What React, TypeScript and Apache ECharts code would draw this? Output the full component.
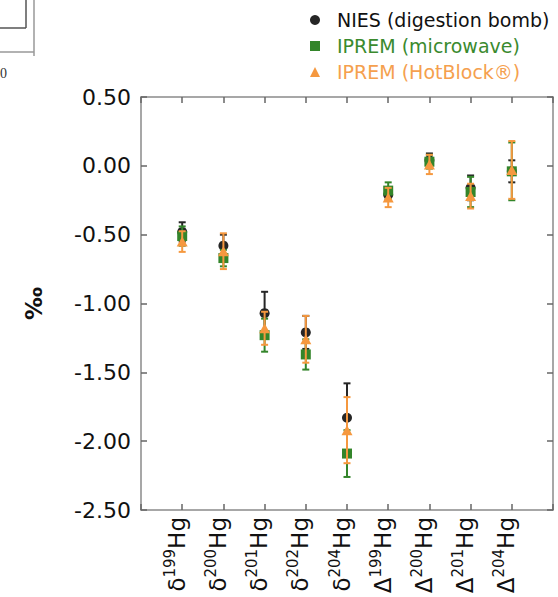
import React, { useEffect, useRef } from "react";
import * as echarts from "echarts";

const categories = ["δ199Hg", "δ200Hg", "δ201Hg", "δ202Hg", "δ204Hg", "Δ199Hg", "Δ200Hg", "Δ201Hg", "Δ204Hg"];
const yTicks = [-2.5, -2.0, -1.5, -1.0, -0.5, 0.0, 0.5];

const niesMean = [-0.48, -0.58, -1.07, -1.21, -1.83, -0.21, 0.04, -0.16, -0.04];
const niesErr = [0.07, 0.08, 0.155, 0.12, 0.25, 0.04, 0.05, 0.09, 0.08];

const microMean = [-0.51, -0.67, -1.23, -1.37, -2.09, -0.18, 0.03, -0.19, -0.04];
const microErr = [0.07, 0.06, 0.12, 0.11, 0.17, 0.06, 0.05, 0.11, 0.21];

const hotMean = [-0.55, -0.62, -1.18, -1.26, -1.92, -0.23, 0.01, -0.22, -0.03];
const hotErr = [0.075, 0.13, 0.12, 0.17, 0.24, 0.07, 0.07, 0.09, 0.21];

const seriesNames = ["NIES (digestion bomb)", "IPREM (microwave)", "IPREM (HotBlock®)"];
const colors = ["#262626", "#33852a", "#f5983f"];
const legendTextColors = ["#111111", "#3a8a2e", "#f5a04e"];
const symbols = ["circle", "rect", "triangle"];

const FONT = "DejaVu Sans";

export default function App() {
  const ref = useRef<HTMLDivElement>(null);
  useEffect(() => {
    document.body.style.margin = "0";
    const chart = echarts.init(ref.current!, null, { renderer: "svg" });
    const means = [niesMean, microMean, hotMean];
    const errs = [niesErr, microErr, hotErr];
    const series: any[] = [];
    means.forEach((m, si) => {
      const errData = m.map((v, i) => [i + 1, v - errs[si][i], v + errs[si][i]]);
      series.push({
        type: "custom",
        name: seriesNames[si] + " err",
        xAxisIndex: 0,
        yAxisIndex: 0,
        z: 2 + si * 2,
        data: errData,
        renderItem: (params: any, api: any) => {
          const x = api.value(0);
          const top = api.coord([x, api.value(2)]);
          const bot = api.coord([x, api.value(1)]);
          const hw = 3.5;
          const st = { stroke: colors[si], lineWidth: 2 };
          return {
            type: "group",
            children: [
              { type: "line", shape: { x1: top[0], y1: top[1], x2: bot[0], y2: bot[1] }, style: st },
              { type: "line", shape: { x1: top[0] - hw, y1: top[1], x2: top[0] + hw, y2: top[1] }, style: st },
              { type: "line", shape: { x1: bot[0] - hw, y1: bot[1], x2: bot[0] + hw, y2: bot[1] }, style: st },
            ],
          };
        },
      });
      series.push({
        type: "scatter",
        name: seriesNames[si],
        xAxisIndex: 0,
        yAxisIndex: 0,
        z: 3 + si * 2,
        symbol: symbols[si],
        symbolKeepAspect: true,
        symbolSize: si === 0 ? 10 : si === 1 ? 10 : [11, 10],
        itemStyle: { color: colors[si], opacity: 1 },
        data: m.map((v, i) => [i + 1, v]),
      });
    });

    const axisLineStyle = { color: "#8a8a8a", width: 1.5 };
    const tickStyle = { color: "#666666", width: 1.5 };

    chart.setOption({
      animation: false,
      textStyle: { fontFamily: FONT },
      grid: { left: 141, right: 5, top: 97, bottom: 87, containLabel: false },
      legend: {
        orient: "vertical",
        left: 310,
        top: 10,
        padding: 0,
        itemGap: 6,
        itemWidth: 10,
        itemHeight: 10,
        textStyle: { fontSize: 19, fontFamily: FONT, lineHeight: 20, padding: [0, 0, 0, 12] },
        data: seriesNames.map((n, i) => ({ name: n, icon: symbols[i], textStyle: { color: legendTextColors[i] } })),
      },
      xAxis: [
        {
          type: "value",
          position: "bottom",
          min: 0,
          max: 10,
          interval: 1,
          splitLine: { show: false },
          axisLine: { show: true, onZero: false, lineStyle: axisLineStyle },
          axisTick: { show: true, inside: true, length: 6, lineStyle: tickStyle },
          axisLabel: {
            rotate: 90,
            margin: 7,
            padding: [0, 0, 14, 0],
            formatter: (v: number) => {
              const c = categories[v - 1];
              if (!c) return "";
              return "{m|" + c[0] + "}{s|" + c.slice(1, 4) + "}{m|" + c.slice(4) + "}";
            },
            rich: {
              m: { fontSize: 23, fontFamily: FONT, color: "#111", lineHeight: 26, verticalAlign: "bottom" },
              s: { fontSize: 15, fontFamily: FONT, color: "#111", lineHeight: 15, verticalAlign: "top" },
            },
          },
        },
        {
          type: "value",
          position: "top",
          min: 0,
          max: 10,
          interval: 1,
          splitLine: { show: false },
          axisLine: { show: true, onZero: false, lineStyle: axisLineStyle },
          axisTick: { show: true, inside: true, length: 6, lineStyle: tickStyle },
          axisLabel: { show: false },
        },
      ],
      yAxis: [
        {
          type: "value",
          position: "left",
          min: yTicks[0],
          max: yTicks[yTicks.length - 1],
          interval: 0.5,
          splitLine: { show: false },
          axisLine: { show: true, onZero: false, lineStyle: axisLineStyle },
          axisTick: { show: true, inside: true, length: 6, lineStyle: tickStyle },
          axisLabel: {
            margin: 10,
            fontSize: 22,
            fontFamily: FONT,
            color: "#111",
            formatter: (v: number) => v.toFixed(2),
          },
          name: "‰",
          nameLocation: "middle",
          nameRotate: 90,
          nameGap: 96,
          nameTextStyle: { fontSize: 23, fontWeight: "bold", fontFamily: FONT, color: "#111" },
        },
        {
          type: "value",
          position: "right",
          min: yTicks[0],
          max: yTicks[yTicks.length - 1],
          interval: 0.5,
          splitLine: { show: false },
          axisLine: { show: true, onZero: false, lineStyle: axisLineStyle },
          axisTick: { show: true, inside: true, length: 6, lineStyle: tickStyle },
          axisLabel: { show: false },
        },
      ],
      graphic: [
        { type: "line", shape: { x1: 0, y1: 28, x2: 26, y2: 28 }, style: { stroke: "#555", lineWidth: 1.5 } },
        { type: "line", shape: { x1: 26, y1: 0, x2: 26, y2: 28 }, style: { stroke: "#555", lineWidth: 1.5 } },
        { type: "line", shape: { x1: 0, y1: 52, x2: 34, y2: 52 }, style: { stroke: "#999", lineWidth: 1.5 } },
        { type: "line", shape: { x1: 34, y1: 0, x2: 34, y2: 56 }, style: { stroke: "#999", lineWidth: 1.5 } },
        { type: "text", left: 0, top: 66, style: { text: "0", fontFamily: "Liberation Serif", fontSize: 14, fill: "#333" } },
      ],
      series,
    });
    return () => chart.dispose();
  }, []);
  return <div ref={ref} style={{ width: 558, height: 597 }} />;
}
